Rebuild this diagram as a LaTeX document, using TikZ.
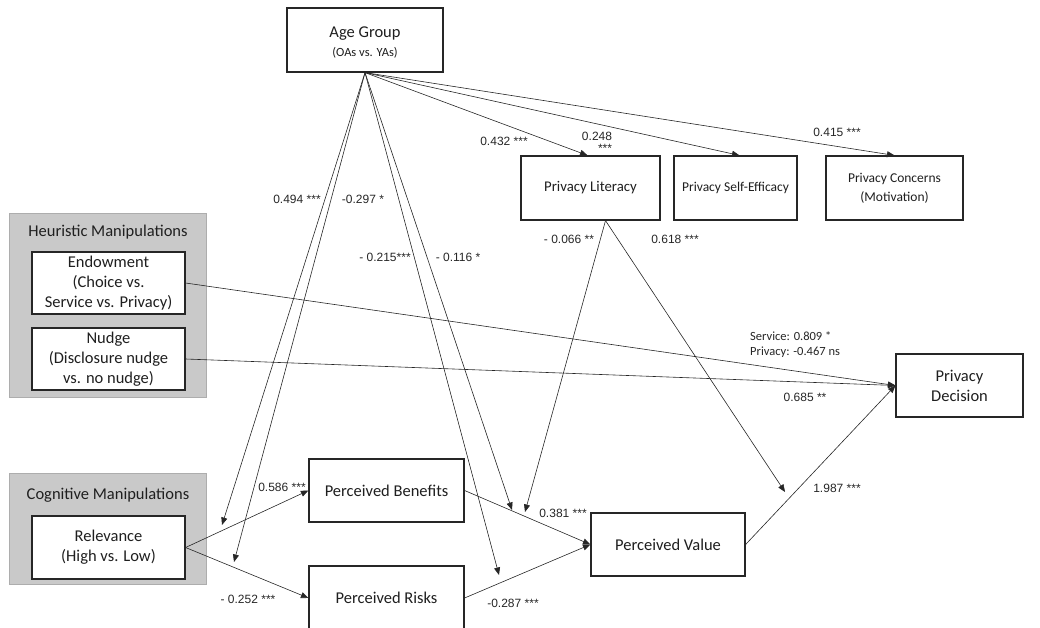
\documentclass[tikz,border=0pt]{standalone}
\usepackage{fontspec}
\setmainfont{Carlito}
\newfontfamily\labfont{Liberation Sans}
\usetikzlibrary{arrows.meta,calc}

\begin{document}
\begin{tikzpicture}[x=1pt,y=-1pt,
  box/.style={draw=black!85, line width=1.2pt, fill=white, inner sep=0pt,
    align=center, text=black!88, font=\fontsize{16.5}{20}\selectfont},
  grp/.style={draw=black!32, fill=black!21, line width=0.8pt, inner sep=0pt},
  grptitle/.style={inner sep=0pt, text=black!88, font=\fontsize{16.5}{20}\selectfont},
  rel/.style={draw=black!85, line width=0.6pt, -{Triangle[length=7.5pt,width=6pt]}},
  lab/.style={inner sep=0pt, text=black!85, font=\labfont\fontsize{12}{12.5}\selectfont},
  note/.style={inner sep=0pt, text=black!85, align=left, font=\fontsize{12.5}{15}\selectfont}
]
\useasboundingbox (0,0) rectangle (1040,628);

% grouping panels
\node[grp, minimum width=197pt, minimum height=184pt] (heur) at (107.5,305) {};
\node[grptitle] (heurT) at (108,232) {Heuristic Manipulations};
\node[grp, minimum width=197pt, minimum height=111pt] (cogn) at (107.5,528.5) {};
\node[grptitle] (cognT) at (108,495) {Cognitive Manipulations};

% variables
\node[box, minimum width=156pt, minimum height=64pt] (age) at (365,40) {};
\node[inner sep=0pt, align=center, text=black!88, font=\fontsize{16.5}{20}\selectfont] (ageT) at (365,43)
  {Age Group\\[-1pt]{\fontsize{12.5}{14}\selectfont (OAs vs. YAs)}};
\node[box, minimum width=139pt, minimum height=64pt, font=\fontsize{14.8}{18}\selectfont] (lit) at (590.5,188) {Privacy Literacy};
\node[box, minimum width=123pt, minimum height=64pt, font=\fontsize{13.5}{17}\selectfont] (eff) at (735.5,188) {Privacy Self-Efficacy};
\node[box, minimum width=137pt, minimum height=64pt, font=\fontsize{13.5}{19}\selectfont] (con) at (894.5,188) {Privacy Concerns\\(Motivation)};

\node[box, minimum width=153pt, minimum height=62pt] (endow) at (108.5,283) {Endowment\\(Choice vs.\\Service vs. Privacy)};
\node[box, minimum width=153pt, minimum height=62pt] (nudge) at (108.5,359) {Nudge\\(Disclosure nudge\\vs. no nudge)};
\node[box, minimum width=153pt, minimum height=63pt] (relev) at (108.5,547.5) {Relevance\\(High vs. Low)};

\node[box, minimum width=155pt, minimum height=63pt] (ben) at (386.5,490.5) {Perceived Benefits};
\node[box, minimum width=155pt, minimum height=64pt] (risk) at (386.5,598) {Perceived Risks};
\node[box, minimum width=154pt, minimum height=63pt] (val) at (668,544.5) {Perceived Value};
\node[box, minimum width=127pt, minimum height=63pt] (dec) at (959.5,385.5) {Privacy\\Decision};

% points on paths that the moderators point at
\coordinate (litout) at ($(lit.south)+(15,0)$);
\coordinate (mBenRel) at (222,525);
\coordinate (mRiskRel) at (234,562);
\coordinate (mBenVal) at (512,510);
\coordinate (mRiskVal) at (499,575);
\coordinate (mLitBen) at (525,512);
\coordinate (mLitDec) at (785,492);

% age group effects
\draw[rel] (age.south) -- ($(lit.north)+(-3,0)$);
\draw[rel] (age.south) -- ($(eff.north)+(4,0)$);
\draw[rel] (age.south) -- (con.north);
\draw[rel] (age.south) -- (mBenRel);
\draw[rel] (age.south) -- (mRiskRel);
\draw[rel] (age.south) -- (mBenVal);
\draw[rel] (age.south) -- (mRiskVal);

% privacy literacy moderation
\draw[rel] (litout) -- (mLitBen);
\draw[rel] (litout) -- (mLitDec);

% main paths
\draw[rel] (endow.east) -- (dec.west);
\draw[rel] (nudge.east) -- (dec.west);
\draw[rel] (relev.east) -- (ben.west);
\draw[rel] (relev.east) -- (risk.west);
\draw[rel] (ben.east) -- (val.west);
\draw[rel] (risk.east) -- (val.west);
\draw[rel] (val.east) -- (dec.west);

% coefficients
\node[lab] (c1) at (504,141) {0.432 ***};
\node[lab, align=right, font=\labfont\fontsize{12}{12}\selectfont] (c2) at (597,142) {0.248\\***};
\node[lab] (c3) at (837,132) {0.415 ***};
\node[lab] (c4) at (297,199) {0.494 ***};
\node[lab] (c5) at (363,199) {-0.297 *};
\node[lab] (c6) at (385,257) {- 0.215***};
\node[lab] (c7) at (458,257) {- 0.116 *};
\node[lab] (c8) at (569,239) {- 0.066 **};
\node[lab] (c9) at (675,239) {0.618 ***};
\node[note, anchor=west] (c10) at (750,344.5) {Service: 0.809 *\\Privacy: -0.467 ns};
\node[lab] (c11) at (805,397) {0.685 **};
\node[lab] (c12) at (837,488) {1.987 ***};
\node[lab] (c13) at (563,513) {0.381 ***};
\node[lab] (c14) at (513,603) {-0.287 ***};
\node[lab] (c15) at (282,487) {0.586 ***};
\node[lab] (c16) at (248,599) {- 0.252 ***};
\end{tikzpicture}
\end{document}
